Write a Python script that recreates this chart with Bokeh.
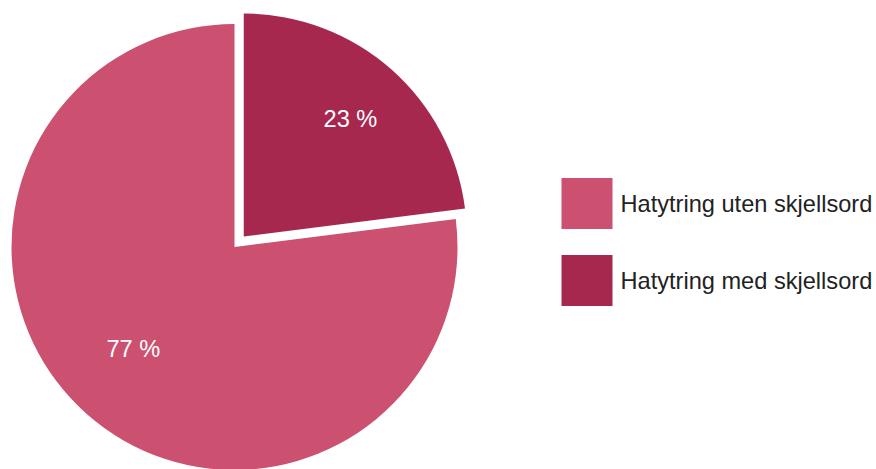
import math
from bokeh.plotting import figure
from bokeh.models import Range1d
from bokeh.core.properties import value
from bokeh.embed import file_html
from bokeh.resources import INLINE

# data
categories = ["Hatytring uten skjellsord", "Hatytring med skjellsord"]
shares = [77, 23]
labels = ["77 %", "23 %"]
colors = ["#CC5170", "#A7284F"]
exploded = [False, True]

W, H = 876, 469
FONT = value("Liberation Sans")
FS = "23.6px"

p = figure(width=W, height=H, output_backend="svg", toolbar_location=None,
           x_range=Range1d(0, W), y_range=Range1d(0, H),
           min_border=0, outline_line_color=None)
p.axis.visible = False
p.grid.visible = False
p.background_fill_color = "white"
p.border_fill_color = "white"

def sy(y):  # screen y -> data y
    return H - y

cx, cy = 234.0, sy(246.5)
R = 223.0
explode_d = 14.0
label_fracs = [0.645, 0.711]
label_shift = [(-6.0, 5.7), (1.8, -1.7)]

total = float(sum(shares))
start = math.pi / 2
for i, (cat, v, lab, col, ex) in enumerate(zip(categories, shares, labels, colors, exploded)):
    span = v / total * 2 * math.pi
    end = start + span
    mid = (start + end) / 2
    ox, oy = cx, cy
    if ex:
        ox += explode_d * math.cos(mid)
        oy += explode_d * math.sin(mid)
    p.wedge(x=[ox], y=[oy], radius=R, start_angle=start, end_angle=end,
            direction="anticlock", fill_color=col, line_color=None)
    lx = ox + label_fracs[i] * R * math.cos(mid) + label_shift[i][0]
    ly = oy + label_fracs[i] * R * math.sin(mid) + label_shift[i][1]
    p.text(x=[lx], y=[ly], text=[lab], text_color="white", text_font=FONT,
           text_font_size=FS, text_align="center", text_baseline="middle")
    start = end

# legend
for i, (cat, col) in enumerate(zip(categories, colors)):
    yc = sy(203 + 77 * i)
    p.rect(x=[586.5], y=[yc], width=51, height=51, fill_color=col, line_color=None)
    p.text(x=[620], y=[yc], text=[cat], text_color="#222222", text_font=FONT,
           text_font_size=FS, text_align="left", text_baseline="middle")

open("out.html", "w").write(file_html(p, INLINE))
